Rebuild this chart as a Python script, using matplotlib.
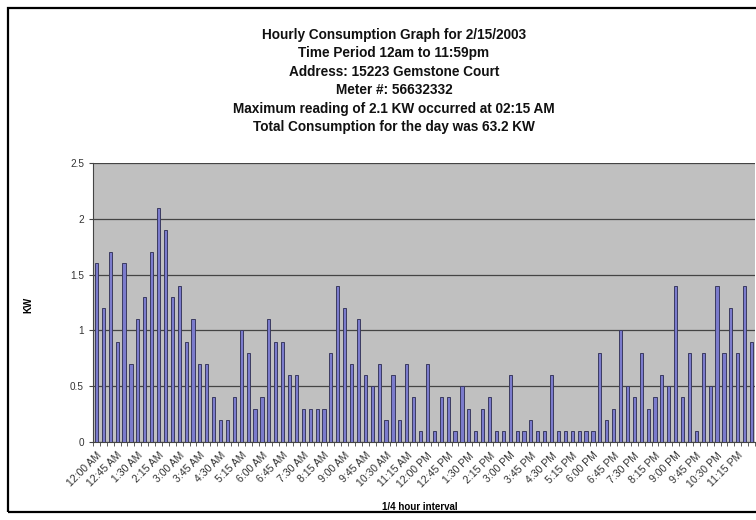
import numpy as np
from matplotlib import pyplot as plt
from matplotlib.patches import Rectangle

plt.rcParams['font.family'] = ['Liberation Sans', 'DejaVu Sans']

# quarter-hour readings for the day, in KW
kw = [1.6, 1.2, 1.7, 0.9, 1.6, 0.7, 1.1, 1.3, 1.7, 2.1,
      1.9, 1.3, 1.4, 0.9, 1.1, 0.7, 0.7, 0.4, 0.2, 0.2,
      0.4, 1.0, 0.8, 0.3, 0.4, 1.1, 0.9, 0.9, 0.6, 0.6,
      0.3, 0.3, 0.3, 0.3, 0.8, 1.4, 1.2, 0.7, 1.1, 0.6,
      0.5, 0.7, 0.2, 0.6, 0.2, 0.7, 0.4, 0.1, 0.7, 0.1,
      0.4, 0.4, 0.1, 0.5, 0.3, 0.1, 0.3, 0.4, 0.1, 0.1,
      0.6, 0.1, 0.1, 0.2, 0.1, 0.1, 0.6, 0.1, 0.1, 0.1,
      0.1, 0.1, 0.1, 0.8, 0.2, 0.3, 1.0, 0.5, 0.4, 0.8,
      0.3, 0.4, 0.6, 0.5, 1.4, 0.4, 0.8, 0.1, 0.8, 0.5,
      1.4, 0.8, 1.2, 0.8, 1.4, 0.9]

tick_labels = ['12:00 AM', '12:45 AM', '1:30 AM', '2:15 AM', '3:00 AM', '3:45 AM',
               '4:30 AM', '5:15 AM', '6:00 AM', '6:45 AM', '7:30 AM', '8:15 AM',
               '9:00 AM', '9:45 AM', '10:30 AM', '11:15 AM', '12:00 PM', '12:45 PM',
               '1:30 PM', '2:15 PM', '3:00 PM', '3:45 PM', '4:30 PM', '5:15 PM',
               '6:00 PM', '6:45 PM', '7:30 PM', '8:15 PM', '9:00 PM', '9:45 PM',
               '10:30 PM', '11:15 PM']

title_lines = ['Hourly Consumption Graph for 2/15/2003',
               'Time Period 12am to 11:59pm',
               'Address: 15223 Gemstone Court',
               'Meter #: 56632332',
               'Maximum reading of 2.1 KW occurred at 02:15 AM',
               'Total Consumption for the day was 63.2 KW']

fig = plt.figure(figsize=(7.56, 5.2), dpi=100)
fig.patch.set_facecolor('white')

# outer chart border (runs off the right edge)
fig.patches.append(Rectangle((8 / 756, 8 / 520), 1.2, 504 / 520, transform=fig.transFigure,
                             fill=False, edgecolor='black', linewidth=1.6))

for i, line in enumerate(title_lines):
    fig.text(394 / 756, 1 - (35 + i * 18.4) / 520, line, ha='center', va='center',
             fontsize=9.8, fontweight='bold', color='#111111')

ax = fig.add_axes([93 / 756, 78 / 520, 662 / 756, 279 / 520])
ax.set_facecolor('#c0c0c0')

x = np.arange(len(kw))
ax.bar(x, kw, width=0.46, color='#7b7bcc', edgecolor='#3a3a60', linewidth=0.7, zorder=3)

ax.set_xlim(-0.5, len(kw) - 0.5)
ax.set_ylim(0, 2.5)
ax.set_yticks([0, 0.5, 1, 1.5, 2, 2.5])
ax.set_yticklabels(['0', '0.5', '1', '1.5', '2', '2.5'], fontsize=7.2, color='#333333')
ax.yaxis.grid(True, color='#444444', linewidth=0.9, zorder=1)

ax.set_xticks(x[::3])
ax.set_xticklabels(tick_labels, rotation=45, ha='right', rotation_mode='anchor',
                   fontsize=7.6, color='#333333')
ax.set_xticks(np.arange(-0.5, len(kw), 1), minor=True)
ax.tick_params(axis='x', which='major', length=0, pad=6)
ax.tick_params(axis='x', which='minor', length=3, color='#444444')
ax.tick_params(axis='y', length=3, color='#444444')

for side in ['top', 'right']:
    ax.spines[side].set_visible(False)
for side in ['left', 'bottom']:
    ax.spines[side].set_color('#444444')

ax.set_ylabel('KW', fontsize=7, fontweight='bold')
ax.yaxis.set_label_coords(-60 / 662, 0.49)
ax.set_xlabel('1/4 hour interval', fontsize=7, fontweight='bold')
ax.xaxis.set_label_coords(327 / 662, -60 / 279)

plt.savefig('out.png', dpi=100)
